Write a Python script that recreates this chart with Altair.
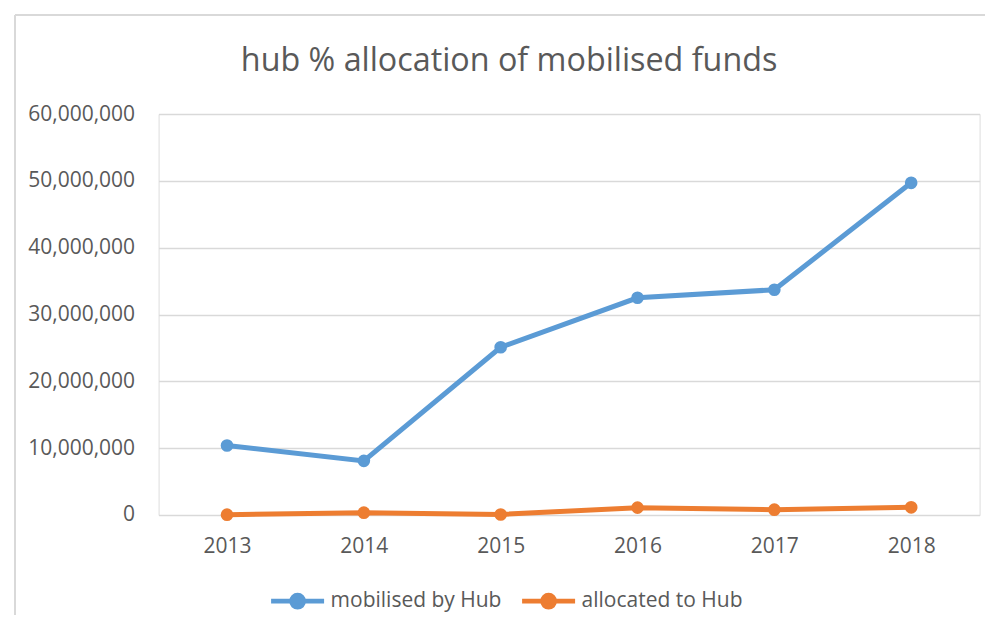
import altair as alt
import pandas as pd

years = ["2013", "2014", "2015", "2016", "2017", "2018"]
mobilised = [10400000, 8100000, 25100000, 32500000, 33700000, 49700000]
allocated = [50000, 350000, 80000, 1100000, 800000, 1150000]
series_names = ["mobilised by Hub", "allocated to Hub"]
series_colors = ["#5B9BD5", "#ED7D31"]
title_text = "hub % allocation of mobilised funds"

rows = []
for y, v in zip(years, mobilised):
    rows.append({"year": y, "value": v, "series": series_names[0]})
for y, v in zip(years, allocated):
    rows.append({"year": y, "value": v, "series": series_names[1]})
df = pd.DataFrame(rows)

FONT = "Open Sans"
TXT = "#595959"

color = alt.Color(
    "series:N",
    scale=alt.Scale(domain=series_names, range=series_colors),
    legend=alt.Legend(
        title=None,
        orient="none",
        legendX=123,
        legendY=471,
        direction="horizontal",
        symbolType="M-2,0H2M-0.45,0A0.45,0.45,0,1,1,0.45,0A0.45,0.45,0,1,1,-0.45,0Z",
        symbolSize=702,
        symbolStrokeWidth=4.8,
        labelFont=FONT,
        labelFontSize=21,
        labelColor=TXT,
        labelLimit=400,
        columnPadding=10,
        labelOffset=17,
        padding=0,
    ),
)

x = alt.X(
    "year:O",
    sort=years,
    scale=alt.Scale(type="point", padding=0.5),
    axis=alt.Axis(
        title=None, labelAngle=0, domain=False, ticks=False, grid=False,
        labelFont=FONT, labelFontSize=21, labelColor=TXT, labelPadding=21,
    ),
)
y = alt.Y(
    "value:Q",
    scale=alt.Scale(domain=[0, 60000000], nice=False),
    axis=alt.Axis(
        title=None, format=",.0f", values=[0, 10000000, 20000000, 30000000, 40000000, 50000000, 60000000],
        domain=False, ticks=False, grid=True, gridColor="#d9d9d9", gridWidth=1.3,
        labelFont=FONT, labelFontSize=21, labelColor=TXT, labelPadding=24,
    ),
)

base = alt.Chart(df)
lines = base.mark_line(strokeWidth=5).encode(x=x, y=y, color=color)
points = base.mark_point(filled=True, size=160, opacity=1).encode(x=x, y=y, color=color)

frame_left = alt.Chart(df).mark_rule(color="#d9d9d9", strokeWidth=1.3).encode(
    x=alt.value(-143.6), y=alt.value(-99), y2=alt.value(510)
)
frame_top = alt.Chart(df).mark_rule(color="#d9d9d9", strokeWidth=1.3).encode(
    x=alt.value(-143.6), x2=alt.value(830), y=alt.value(-99)
)

chart = (
    alt.layer(frame_left, frame_top, lines, points)
    .properties(
        width=821,
        height=401,
        autosize=alt.AutoSizeParams(type="none"),
        padding={"left": 150.6, "top": 106, "right": 5, "bottom": 100},
        title=alt.TitleParams(
            text=title_text, font=FONT, fontSize=32.3, fontWeight="normal",
            color=TXT, anchor="middle", frame="group", dx=-60,
            baseline="alphabetic", offset=-89,
        ),
    )
    .configure_view(stroke=None)
    .configure(background="white")
)

chart.save("out.html", embed_options={"renderer": "svg", "actions": False})
